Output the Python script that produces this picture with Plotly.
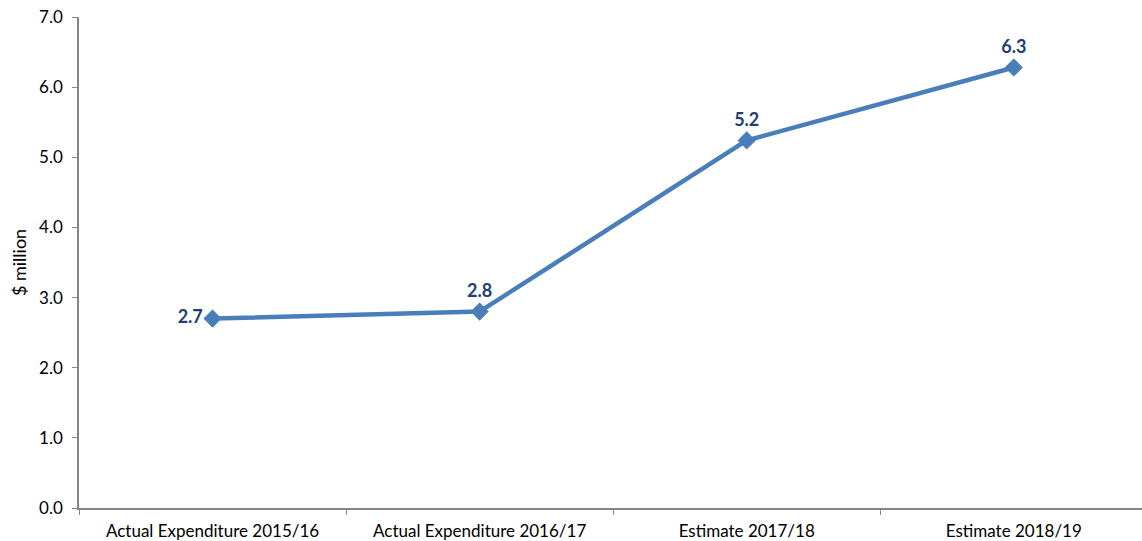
import plotly.graph_objects as go

categories = ["Actual Expenditure 2015/16", "Actual Expenditure 2016/17",
              "Estimate 2017/18", "Estimate 2018/19"]
values = [2.7, 2.8, 5.24, 6.28]
labels = ["2.7", "2.8", "5.2", "6.3"]
label_pos = ["middle left", "top center", "top center", "top center"]
y_ticks = [0, 1, 2, 3, 4, 5, 6, 7]

fig = go.Figure()
fig.add_trace(go.Scatter(
    x=categories, y=values, mode="lines+markers+text",
    line=dict(color="#4a7ebb", width=4.5),
    marker=dict(symbol="diamond", size=14, color="#4a7ebb"),
    text=labels, textposition=label_pos,
    textfont=dict(family="Lato", size=18, color="#1f3f73", weight="bold"),
    cliponaxis=False, showlegend=False, hoverinfo="skip",
))

fig.update_layout(
    width=1142, height=541,
    margin=dict(l=79, r=0, t=17, b=33),
    plot_bgcolor="white", paper_bgcolor="white",
    font=dict(family="Lato", size=17, color="#000000"),
)
fig.update_xaxes(
    type="category", range=[-0.5, 3.48],
    showline=True, linecolor="#868686", linewidth=1.5,
    ticks="outside", tickson="boundaries", ticklen=5, tickcolor="#868686",
    showgrid=False, zeroline=False, automargin=False,
    ticklabelstandoff=7,
)
fig.update_yaxes(
    range=[0, 7], tickvals=y_ticks, tickformat=".1f",
    showline=True, linecolor="#868686", linewidth=1.5,
    ticks="outside", ticklen=5, tickcolor="#868686",
    showgrid=False, zeroline=False, automargin=False,
    tickfont=dict(size=17), ticklabelstandoff=6,
    title=dict(text="$ million", font=dict(size=18), standoff=8),
)

fig.write_html("out.html", config={"displayModeBar": False},
               post_script="document.body.style.margin='0';document.body.style.overflow='hidden';")
